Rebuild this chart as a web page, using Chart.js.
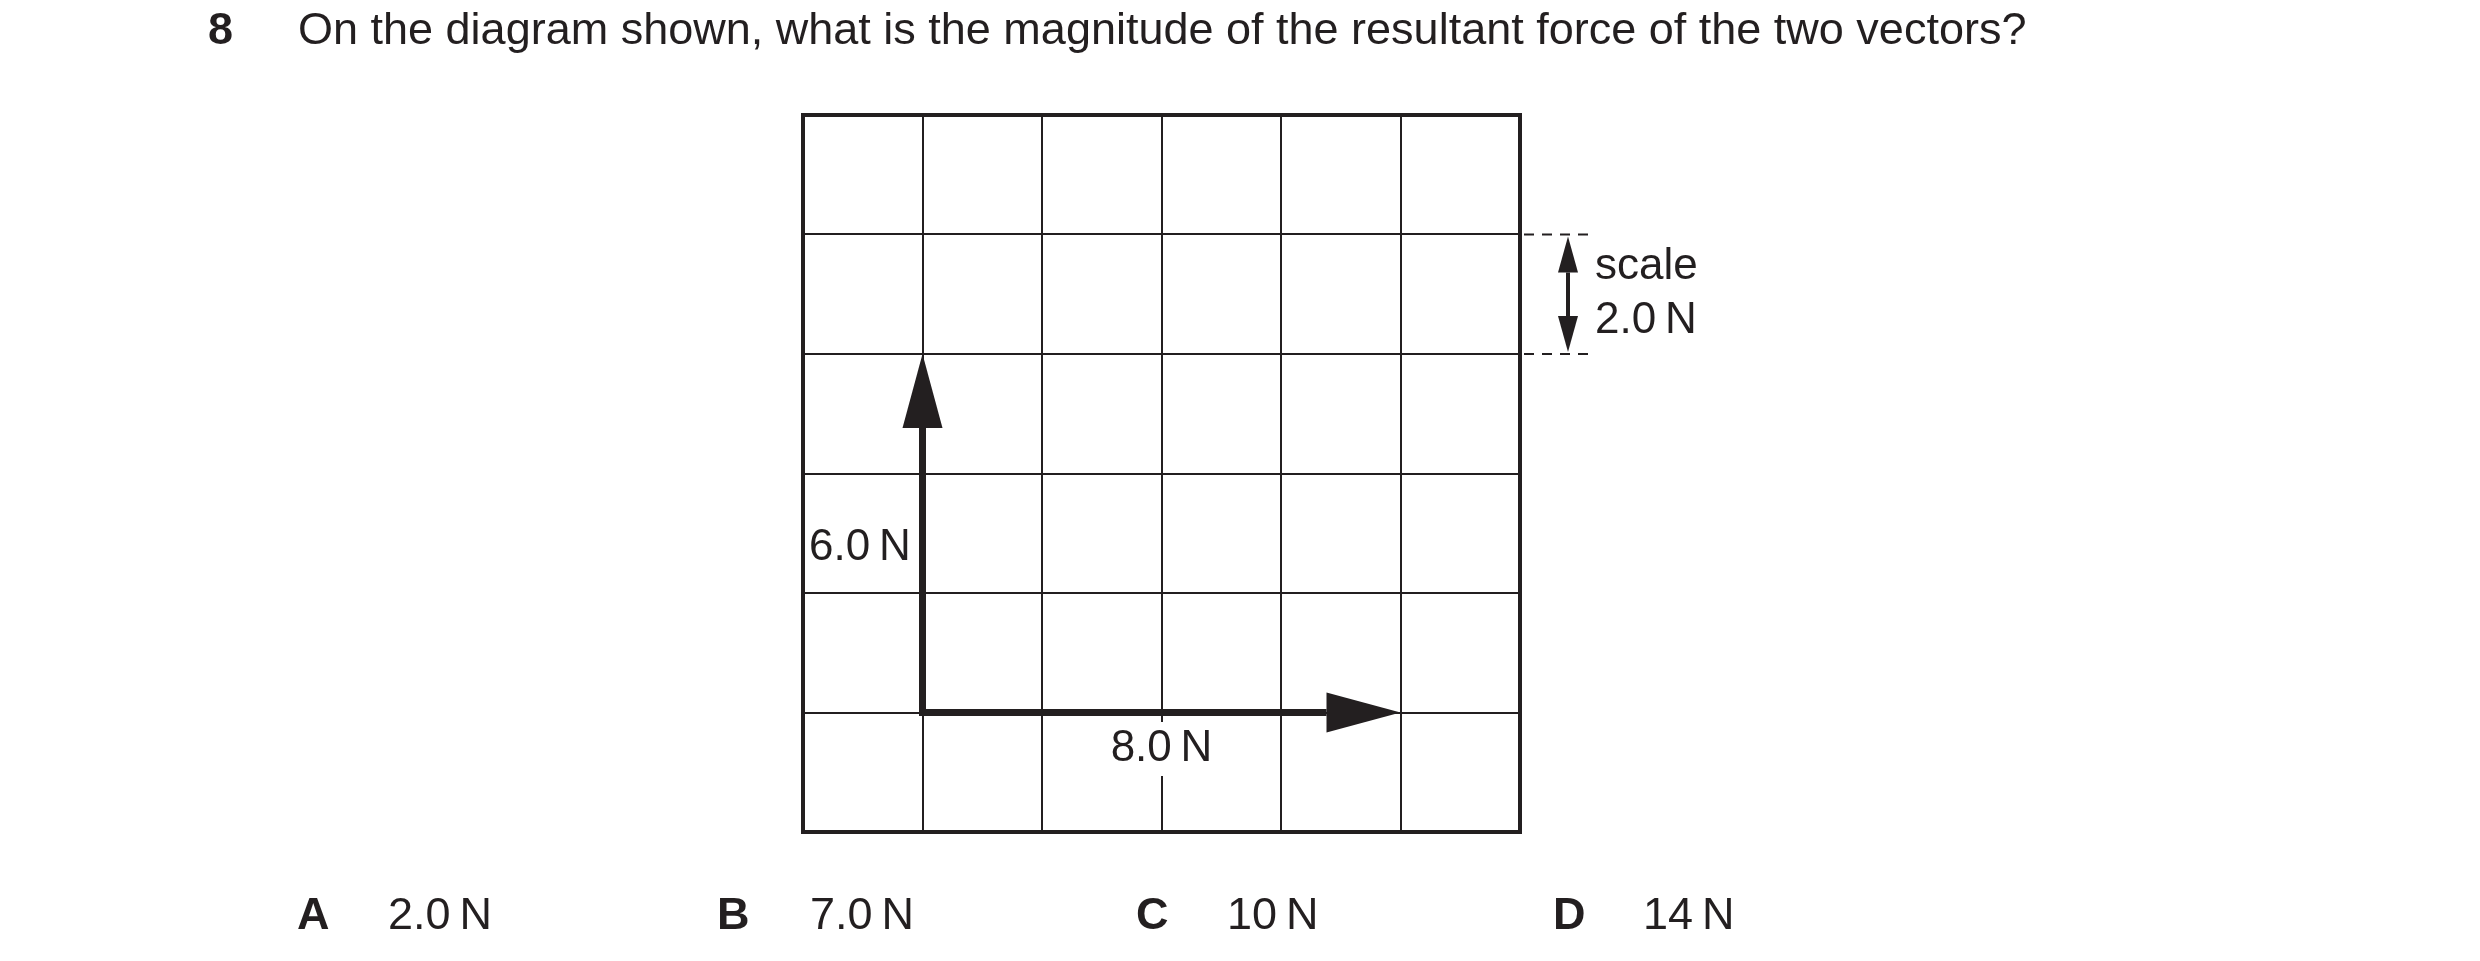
<!DOCTYPE html>
<html><head><meta charset="utf-8">
<script src="https://cdn.jsdelivr.net/npm/chart.js@4"></script>
<style>html,body{margin:0;padding:0;background:#fff}canvas{display:block}</style>
</head><body>
<canvas id="c" width="2480" height="961"></canvas>
<script>
const question = "On the diagram shown, what is the magnitude of the resultant force of the two vectors?";
const questionNumber = "8";
const gridCells = [0, 6];
const vectorUp = [{x:1,y:1},{x:1,y:4}];
const vectorRight = [{x:1,y:1},{x:5,y:1}];
const vectorLabels = ["6.0\u2009N", "8.0\u2009N"];
const scaleRange = [4, 5];
const scaleLabels = ["scale", "2.0\u2009N"];
const optionLetters = ["A","B","C","D"];
const optionValues = ["2.0\u2009N","7.0\u2009N","10\u2009N","14\u2009N"];

const FONT = '"Liberation Sans", Arial, sans-serif';
const ink = '#231f20';

function arrow(ctx, x1, y1, x2, y2, hl, hw, lw){
  const a = Math.atan2(y2-y1, x2-x1);
  const bx = x2 - hl*Math.cos(a), by = y2 - hl*Math.sin(a);
  ctx.strokeStyle = ink; ctx.lineWidth = lw; ctx.lineCap='butt';
  ctx.beginPath(); ctx.moveTo(x1 - (lw/2)*Math.cos(a), y1 - (lw/2)*Math.sin(a)); ctx.lineTo(bx, by); ctx.stroke();
  ctx.fillStyle = ink; ctx.beginPath();
  ctx.moveTo(x2, y2);
  ctx.lineTo(bx + hw/2*Math.sin(a), by - hw/2*Math.cos(a));
  ctx.lineTo(bx - hw/2*Math.sin(a), by + hw/2*Math.cos(a));
  ctx.closePath(); ctx.fill();
}

const deco = {
  id: 'deco',
  afterDraw(chart){
    const ctx = chart.ctx, xs = chart.scales.x, ys = chart.scales.y, ca = chart.chartArea;
    ctx.save();
    ctx.strokeStyle = ink; ctx.lineWidth = 4;
    ctx.strokeRect(ca.left, ca.top, ca.right-ca.left, ca.bottom-ca.top);
    arrow(ctx, xs.getPixelForValue(vectorUp[0].x), ys.getPixelForValue(vectorUp[0].y),
          xs.getPixelForValue(vectorUp[1].x), ys.getPixelForValue(vectorUp[1].y), 74, 40, 7);
    arrow(ctx, xs.getPixelForValue(vectorRight[0].x), ys.getPixelForValue(vectorRight[0].y),
          xs.getPixelForValue(vectorRight[1].x), ys.getPixelForValue(vectorRight[1].y), 74, 40, 7);
    ctx.font = '44px ' + FONT; ctx.textBaseline = 'middle';
    let w = ctx.measureText(vectorLabels[0]).width;
    ctx.fillStyle = '#fff'; ctx.fillRect(ca.left+3, 520, w+6, 54);
    ctx.fillStyle = ink; ctx.textAlign = 'left';
    ctx.fillText(vectorLabels[0], ca.left+6, 548);
    w = ctx.measureText(vectorLabels[1]).width;
    const cx = xs.getPixelForValue(3);
    ctx.fillStyle = '#fff'; ctx.fillRect(cx - w/2 - 4, 722, w+8, 54);
    ctx.fillStyle = ink; ctx.textAlign = 'center';
    ctx.fillText(vectorLabels[1], cx, 749);
    const y1 = ys.getPixelForValue(scaleRange[1]), y2 = ys.getPixelForValue(scaleRange[0]);
    ctx.strokeStyle = ink; ctx.lineWidth = 2; ctx.setLineDash([10,8]);
    ctx.beginPath(); ctx.moveTo(ca.right+4, y1); ctx.lineTo(ca.right+72, y1);
    ctx.moveTo(ca.right+4, y2); ctx.lineTo(ca.right+72, y2); ctx.stroke();
    ctx.setLineDash([]);
    const sx = ca.right + 48, my = (y1+y2)/2;
    arrow(ctx, sx, my, sx, y1+2, 36, 20, 4);
    arrow(ctx, sx, my, sx, y2-2, 36, 20, 4);
    ctx.fillStyle = ink; ctx.textAlign = 'left'; ctx.font = '44px ' + FONT;
    ctx.fillText(scaleLabels[0], ca.right+75, 267);
    ctx.fillText(scaleLabels[1], ca.right+75, 321);
    ctx.font = 'bold 45px ' + FONT; ctx.fillText(questionNumber, 208, 32);
    ctx.font = '45px ' + FONT; ctx.fillText(question, 298, 32);
    const lx = [297, 717, 1136, 1553], vx = [388, 810, 1227, 1643];
    optionLetters.forEach((l,i)=>{
      ctx.font = 'bold 45px ' + FONT; ctx.fillText(l, lx[i], 917);
      ctx.font = '45px ' + FONT; ctx.fillText(optionValues[i], vx[i], 917);
    });
    ctx.restore();
  }
};

new Chart(document.getElementById('c'), {
  type: 'scatter',
  data: { datasets: [
    { data: vectorUp, showLine: false, pointRadius: 0 },
    { data: vectorRight, showLine: false, pointRadius: 0 }
  ]},
  options: {
    responsive: false, animation: false, devicePixelRatio: 1,
    layout: { padding: { left: 803, right: 960, top: 115, bottom: 129 } },
    plugins: { legend: {display:false}, tooltip: {enabled:false} },
    scales: {
      x: { min: gridCells[0], max: gridCells[1], ticks: {display:false, stepSize:1},
           grid: { color: ink, lineWidth: 2, drawTicks:false }, border: {display:false} },
      y: { min: gridCells[0], max: gridCells[1], ticks: {display:false, stepSize:1},
           grid: { color: ink, lineWidth: 2, drawTicks:false }, border: {display:false} }
    }
  },
  plugins: [deco]
});
</script>
</body></html>
